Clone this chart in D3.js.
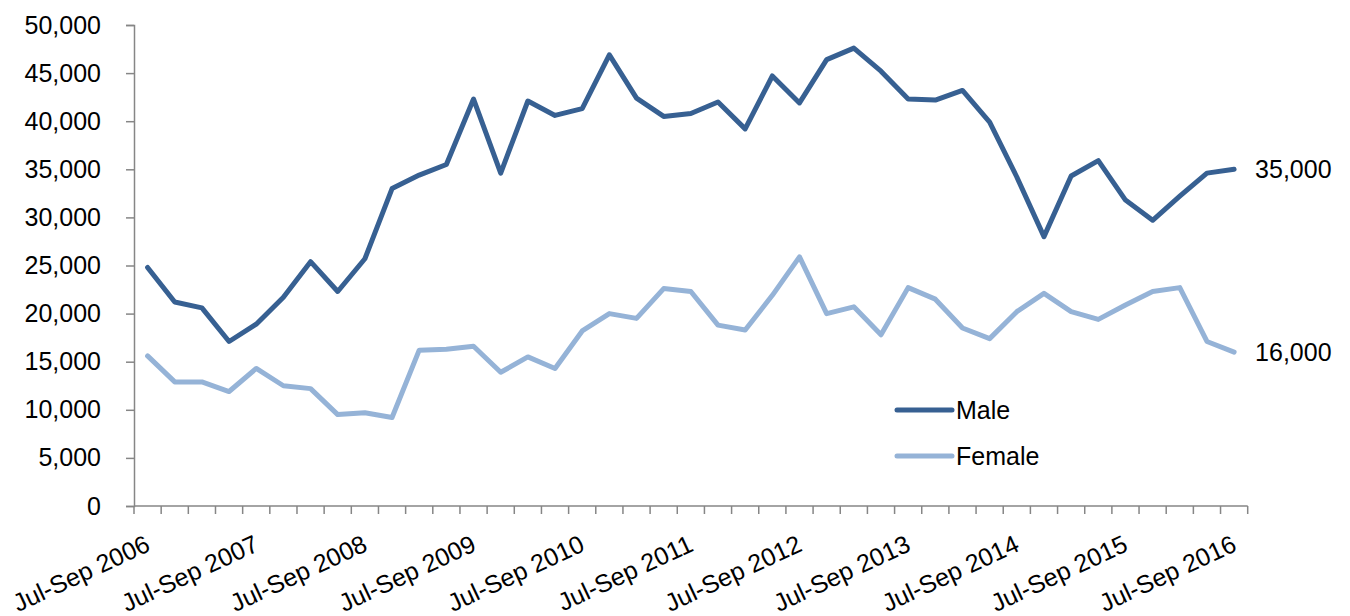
<!DOCTYPE html>
<html>
<head>
<meta charset="utf-8">
<script src="https://cdn.jsdelivr.net/npm/d3@7"></script>
<style>
  html, body { margin: 0; padding: 0; background: #fff; }
  svg { display: block; font-family: "Liberation Sans", Arial, sans-serif; }
</style>
</head>
<body>
<svg id="chart" width="1350" height="616"></svg>
<script>
const categories = [
  "Jul-Sep 2006","Oct-Dec 2006","Jan-Mar 2007","Apr-Jun 2007",
  "Jul-Sep 2007","Oct-Dec 2007","Jan-Mar 2008","Apr-Jun 2008",
  "Jul-Sep 2008","Oct-Dec 2008","Jan-Mar 2009","Apr-Jun 2009",
  "Jul-Sep 2009","Oct-Dec 2009","Jan-Mar 2010","Apr-Jun 2010",
  "Jul-Sep 2010","Oct-Dec 2010","Jan-Mar 2011","Apr-Jun 2011",
  "Jul-Sep 2011","Oct-Dec 2011","Jan-Mar 2012","Apr-Jun 2012",
  "Jul-Sep 2012","Oct-Dec 2012","Jan-Mar 2013","Apr-Jun 2013",
  "Jul-Sep 2013","Oct-Dec 2013","Jan-Mar 2014","Apr-Jun 2014",
  "Jul-Sep 2014","Oct-Dec 2014","Jan-Mar 2015","Apr-Jun 2015",
  "Jul-Sep 2015","Oct-Dec 2015","Jan-Mar 2016","Apr-Jun 2016",
  "Jul-Sep 2016"
];
const tickLabels = ["Jul-Sep 2006","Jul-Sep 2007","Jul-Sep 2008","Jul-Sep 2009",
  "Jul-Sep 2010","Jul-Sep 2011","Jul-Sep 2012","Jul-Sep 2013","Jul-Sep 2014",
  "Jul-Sep 2015","Jul-Sep 2016"];
const male = [24800, 21200, 20600, 17100, 18900, 21700, 25400, 22300, 25700, 33000,
  34400, 35500, 42300, 34600, 42100, 40600, 41300, 46900, 42400, 40500,
  40800, 42000, 39200, 44700, 41900, 46400, 47600, 45200, 42300, 42200,
  43200, 39900, 34200, 28000, 34300, 35900, 31800, 29700, 32200, 34600,
  35000];
const female = [15600, 12900, 12900, 11900, 14300, 12500, 12200, 9500, 9700, 9200,
  16200, 16300, 16600, 13900, 15500, 14300, 18200, 20000, 19500, 22600,
  22300, 18800, 18300, 21900, 25900, 20000, 20700, 17800, 22700, 21500,
  18500, 17400, 20200, 22100, 20200, 19400, 20900, 22300, 22700, 17100,
  16000];
const seriesNames = ["Male", "Female"];
const endLabels = ["35,000", "16,000"];
const yTicks = [0, 5000, 10000, 15000, 20000, 25000, 30000, 35000, 40000, 45000, 50000];
const colors = ["#376092", "#95B3D7"];

const svg = d3.select("#chart");
const m = {left: 134, top: 25, right: 1247.7, bottom: 506};
const fs = 25;

const x = d3.scaleBand().domain(categories).range([m.left, m.right]).padding(0);
const y = d3.scaleLinear().domain([0, 50000]).range([m.bottom, m.top]);
const cx = c => x(c) + x.bandwidth() / 2;

// Y axis
const yAxis = svg.append("g").attr("transform", `translate(${m.left},0)`)
  .call(d3.axisLeft(y).tickValues(yTicks).tickFormat(d3.format(",")).tickSize(8).tickPadding(25));
yAxis.select(".domain").attr("stroke", "#868686").attr("stroke-width", 1.5);
yAxis.selectAll(".tick line").attr("stroke", "#868686").attr("stroke-width", 1.5);
yAxis.selectAll(".tick text").attr("font-size", fs).attr("fill", "#000")
  .attr("font-family", "'Liberation Sans', Arial, sans-serif");

// X axis line and boundary ticks
const gx = svg.append("g");
gx.append("line").attr("x1", m.left).attr("x2", m.right).attr("y1", m.bottom).attr("y2", m.bottom)
  .attr("stroke", "#868686").attr("stroke-width", 1.5);
const bounds = categories.map(c => x(c)).concat([x(categories[categories.length - 1]) + x.bandwidth()]);
gx.selectAll("line.tk").data(bounds).enter().append("line").attr("class", "tk")
  .attr("x1", d => d).attr("x2", d => d).attr("y1", m.bottom).attr("y2", m.bottom + 8)
  .attr("stroke", "#868686").attr("stroke-width", 1.5);
gx.selectAll("text.xl").data(tickLabels).enter().append("text").attr("class", "xl")
  .attr("transform", d => `translate(${cx(d) + 4},${m.bottom + 44}) rotate(-25)`)
  .attr("text-anchor", "end").attr("font-size", fs).attr("fill", "#000")
  .text(d => d);

// Lines
const line = d3.line().x((d, i) => cx(categories[i])).y(d => y(d));
[male, female].forEach((s, k) => {
  svg.append("path").datum(s).attr("d", line).attr("fill", "none")
    .attr("stroke", colors[k]).attr("stroke-width", 5)
    .attr("stroke-linejoin", "round").attr("stroke-linecap", "round");
});

// End labels
[male, female].forEach((s, k) => {
  svg.append("text").attr("x", cx(categories[categories.length - 1]) + 21)
    .attr("y", y(s[s.length - 1])).attr("dy", "0.35em")
    .attr("font-size", fs).attr("fill", "#000").text(endLabels[k]);
});

// Legend
const lg = svg.append("g");
seriesNames.forEach((n, k) => {
  const ly = 410 + k * 46;
  lg.append("line").attr("x1", 897).attr("x2", 952).attr("y1", ly).attr("y2", ly)
    .attr("stroke", colors[k]).attr("stroke-width", 5).attr("stroke-linecap", "round");
  lg.append("text").attr("x", 956).attr("y", ly).attr("dy", "0.35em")
    .attr("font-size", fs).attr("fill", "#000").text(n);
});
</script>
</body>
</html>
